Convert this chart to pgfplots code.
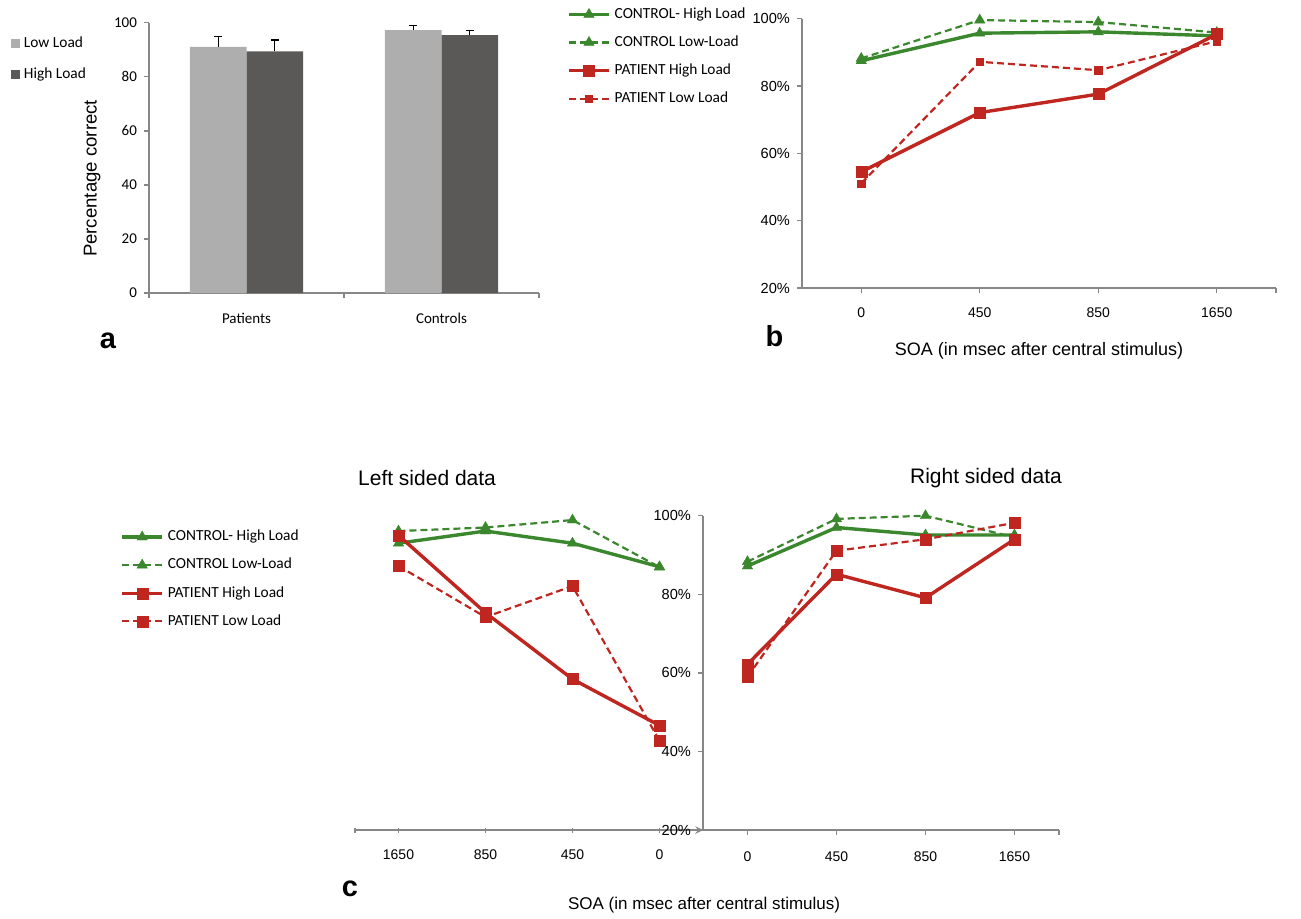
\documentclass[border=0pt]{standalone}
\usepackage{pgfplots}
\pgfplotsset{compat=1.18}
\usepackage{fontspec}
\setmainfont{Liberation Sans}
\newfontfamily\calibri{Carlito}
\definecolor{lowgray}{RGB}{174,174,174}
\definecolor{highgray}{RGB}{90,89,87}
\definecolor{cgreen}{RGB}{58,135,45}
\definecolor{pred}{RGB}{192,38,32}
\definecolor{axgray}{RGB}{135,135,135}
\pgfplotsset{
  common/.style={
    scale only axis, anchor=south west, clip=false,
    /pgf/number format/assume math mode=true,
    axis x line=bottom, axis y line=left,
    axis line style={-, draw=axgray, line width=0.7pt},
    tick style={draw=axgray, line width=0.7pt},
    tick align=outside, major tick length=2.5pt, minor tick length=2.5pt,
  },
  linelegend/.style={legend image code/.code={\draw[mark repeat=2,mark phase=2,##1] plot coordinates {(0pt,0pt) (10pt,0pt) (20pt,0pt)};}},
  lgstyle/.style={legend cell align=left, legend style={draw=none, fill=none, anchor=north west, inner sep=0pt, row sep=3.2pt, font=\calibri\fontsize{7.7}{9}\selectfont}},
  chl/.style={cgreen, solid, line width=1.7pt, mark=triangle*, mark size=3pt, mark options={solid, fill=cgreen, draw=cgreen, line width=0.2pt}},
  cll/.style={cgreen, line width=1.1pt, dash pattern=on 3.5pt off 2pt, mark=triangle*, mark size=3pt, mark options={solid, fill=cgreen, draw=cgreen, line width=0.2pt}},
  phl/.style={pred, solid, line width=1.7pt, mark=square*, mark size=2.75pt, mark options={solid, fill=pred, draw=pred, line width=0.2pt}},
  pll/.style={pred, line width=1.1pt, dash pattern=on 3.5pt off 2pt, mark=square*, mark size=2.75pt, mark options={solid, fill=pred, draw=pred, line width=0.2pt}},
}
\begin{document}
\begin{tikzpicture}
\path[use as bounding box] (0,0) rectangle (650.5pt,459pt);

% ---------------- panel a ----------------
\begin{axis}[common, at={(74.5pt,312.5pt)}, width=195pt, height=135.15pt,
  xmin=-0.5, xmax=1.5, ymin=0, ymax=100,
  xtick={0,1}, xticklabels={Patients,Controls}, major x tick style={draw=none},
  minor xtick={-0.5,0.5,1.5},
  ytick={0,20,...,100},
  tick label style={font=\calibri\fontsize{7.5}{9}\selectfont},
  xticklabel style={yshift=-4pt},
  ylabel={Percentage correct},
  ylabel style={font=\fontsize{9.3}{11}\selectfont, at={(axis description cs:-0.146,0.424)}, anchor=center},
  lgstyle, legend style={at={(axis description cs:-0.355,0.963)}, row sep=4.5pt},
]
\addplot[ybar, bar width=0.29, bar shift=0, fill=lowgray, draw=none,
  legend image code/.code={\fill[lowgray] (0pt,-2.25pt) rectangle (4.5pt,2.25pt);},
  error bars/.cd, y dir=plus, y explicit,
  error bar style={draw=black, line width=0.6pt},
  error mark options={rotate=90, draw=black, mark size=1.9pt, line width=0.6pt}]
  coordinates {(-0.145,91.1) +- (0,3.7) (0.855,97.3) +- (0,1.8)};
\addlegendentry{Low Load}
\addplot[ybar, bar width=0.29, bar shift=0, fill=highgray, draw=none,
  legend image code/.code={\fill[highgray] (0pt,-2.25pt) rectangle (4.5pt,2.25pt);},
  error bars/.cd, y dir=plus, y explicit,
  error bar style={draw=black, line width=0.6pt},
  error mark options={rotate=90, draw=black, mark size=1.9pt, line width=0.6pt}]
  coordinates {(0.145,89.4) +- (0,4.2) (1.145,95.4) +- (0,1.6)};
\addlegendentry{High Load}
\end{axis}

% ---------------- panel b ----------------
\begin{axis}[common, at={(401pt,315pt)}, width=237pt, height=134.65pt,
  xmin=-0.5, xmax=3.5, ymin=20, ymax=100,
  xtick={0,1,2,3}, xticklabels={0,450,850,1650}, minor xtick={3.5},
  ytick={20,40,...,100}, yticklabel={\pgfmathprintnumber{\tick}\%},
  yticklabel style={font=\fontsize{7.3}{9}\selectfont},
  xticklabel style={font=\fontsize{7}{9}\selectfont, yshift=-4pt},
  xlabel={SOA (in msec after central stimulus)},
  xlabel style={font=\fontsize{9}{11}\selectfont, at={(axis description cs:0.5,-0.235)}, anchor=center},
  linelegend, lgstyle, legend style={at={(axis description cs:-0.496,1.058)}},
]
\addplot[chl] coordinates {(0,87.5) (1,95.7) (2,96.1) (3,94.9)};
\addlegendentry{CONTROL- High Load}
\addplot[cll] coordinates {(0,88.2) (1,99.6) (2,99.0) (3,95.9)};
\addlegendentry{CONTROL Low-Load}
\addplot[phl] coordinates {(0,54.5) (1,72.1) (2,77.6) (3,95.4)};
\addlegendentry{PATIENT High Load}
\addplot[pll, mark size=1.8pt] coordinates {(0,51.1) (1,87.2) (2,84.7) (3,93.3)};
\addlegendentry{PATIENT Low Load}
\end{axis}

% ---------------- panel c left ----------------
\begin{axis}[common, at={(177.5pt,44pt)}, width=174pt, height=157.15pt,
  axis x line=bottom, axis y line=none,
  xmin=-0.5, xmax=3.5, ymin=20, ymax=100,
  xtick={0,1,2,3}, xticklabels={1650,850,450,0}, minor xtick={-0.5},
  ytick=\empty,
  xticklabel style={font=\fontsize{7}{9}\selectfont, yshift=-5pt},
  title={Left sided data},
  title style={at={(axis description cs:0.207,1.082)}, anchor=center, font=\fontsize{10.5}{12}\selectfont},
  linelegend, lgstyle, legend style={at={(axis description cs:-0.675,0.968)}},
]
\addplot[chl] coordinates {(0,93.0) (1,96.1) (2,93.0) (3,87.0)};
\addlegendentry{CONTROL- High Load}
\addplot[cll] coordinates {(0,96.1) (1,97.0) (2,98.9) (3,86.9)};
\addlegendentry{CONTROL Low-Load}
\addplot[phl] coordinates {(0,95.0) (1,75.3) (2,58.4) (3,46.6)};
\addlegendentry{PATIENT High Load}
\addplot[pll] coordinates {(0,87.2) (1,74.2) (2,82.1) (3,42.7)};
\addlegendentry{PATIENT Low Load}
\end{axis}

% ---------------- panel c right ----------------
\begin{axis}[common, at={(351.5pt,44pt)}, width=178pt, height=157.15pt,
  xmin=-0.5, xmax=3.5, ymin=20, ymax=100,
  xtick={0,1,2,3}, xticklabels={0,450,850,1650}, minor xtick={3.5},
  ytick={20,40,...,100}, yticklabel={\pgfmathprintnumber{\tick}\%},
  yticklabel style={font=\fontsize{7.3}{9}\selectfont},
  xticklabel style={font=\fontsize{7}{9}\selectfont, yshift=-5pt},
  title={Right sided data},
  title style={at={(axis description cs:0.795,1.082)}, anchor=center, font=\fontsize{10.5}{12}\selectfont},
  xlabel={SOA (in msec after central stimulus)},
  xlabel style={font=\fontsize{8.5}{10}\selectfont, at={(axis description cs:0.003,-0.239)}, anchor=center},
]
\addplot[chl] coordinates {(0,87.2) (1,97.0) (2,95.1) (3,95.1)};
\addplot[cll] coordinates {(0,88.3) (1,99.2) (2,100.0) (3,94.5)};
\addplot[phl] coordinates {(0,62.2) (1,85.1) (2,79.1) (3,94.0)};
\addplot[pll] coordinates {(0,59.0) (1,91.1) (2,94.0) (3,98.2)};
\end{axis}

\node[anchor=base, font=\bfseries\fontsize{14.5}{16}\selectfont] at (54pt,285pt) {a};
\node[anchor=base, font=\bfseries\fontsize{14.5}{16}\selectfont] at (387.25pt,285.7pt) {b};
\node[anchor=base, font=\bfseries\fontsize{14.5}{16}\selectfont] at (175pt,11pt) {c};
\end{tikzpicture}
\end{document}
